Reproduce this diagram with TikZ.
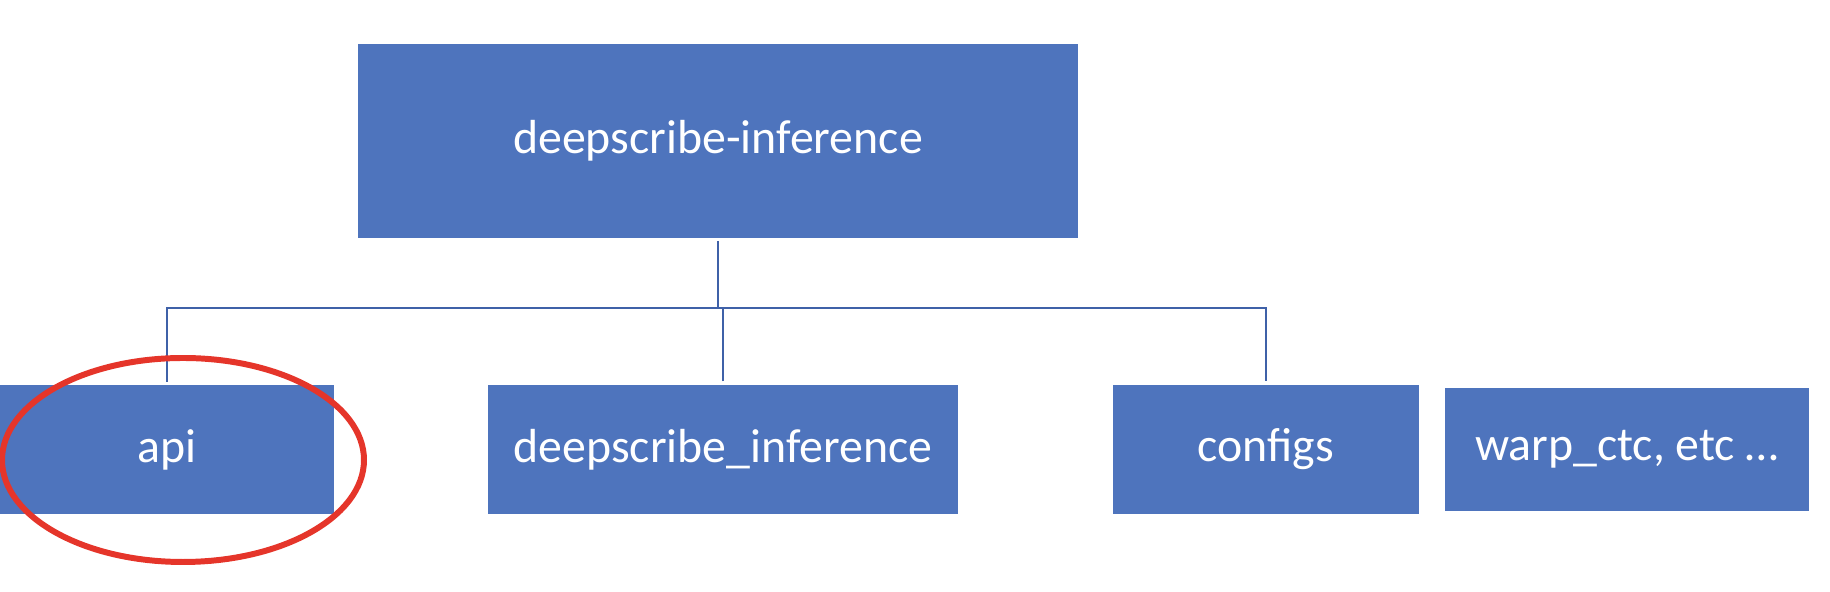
\documentclass[tikz,border=0pt]{standalone}
\usepackage{fontspec}
\setmainfont{Carlito}
\usetikzlibrary{shapes.geometric}
\definecolor{boxblue}{HTML}{4E74BD}
\definecolor{lineblue}{HTML}{3F61A8}
\definecolor{ringred}{HTML}{E5352A}
\begin{document}
\begin{tikzpicture}[x=0.1mm, y=-0.1mm,
    folder/.style={fill=boxblue, text=white, font=\fontsize{13.6}{16}\selectfont, inner sep=0pt, minimum height=12.9mm},
    conn/.style={draw=lineblue, line width=0.65pt}]
    \useasboundingbox (0,0) rectangle (1830,592);
    \node[folder, minimum width=72mm, minimum height=19.4mm] (root) at (718,141) {deepscribe-inference};
    \node[folder, minimum width=33.4mm] (api) at (167,450) {api};
    \node[folder, minimum width=47mm] (dsinf) at (723,449.5) {deepscribe\_inference};
    \node[folder, minimum width=30.6mm] (configs) at (1266,449.5) {configs};
    \node[folder, minimum width=36.4mm, minimum height=12.3mm] (warp) at (1627,449.5) {warp\_ctc, etc …};
    \coordinate (bus) at (0,308);
    \draw[conn] ([yshift=-0.6pt]root.south) -- (root.south |- bus);
    \draw[conn] ([yshift=0.8pt]api.north) -- (api.north |- bus) -- (configs.north |- bus) -- ([yshift=0.8pt]configs.north);
    \draw[conn] ([yshift=0.8pt]dsinf.north) -- (dsinf.north |- bus);
    \node[ellipse, draw=ringred, line width=1.7pt, minimum width=36.2mm, minimum height=20.4mm] (ring) at (183,460) {};
\end{tikzpicture}
\end{document}
